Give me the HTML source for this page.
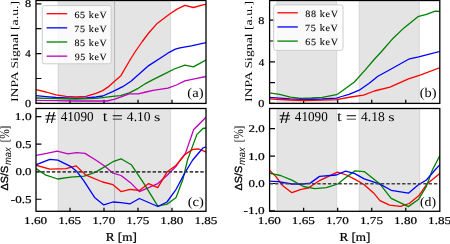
<!DOCTYPE html><html><head><meta charset="utf-8"><style>html,body{margin:0;padding:0;background:#fff;width:450px;height:244px;overflow:hidden}svg{display:block;will-change:transform}text{text-rendering:geometricPrecision}</style></head><body>
<svg width="450" height="244" viewBox="0 0 450 244">
<rect width="450" height="244" fill="#fff"/>
<defs>
<clipPath id="cpa"><rect x="36.0" y="0.5" width="170.00" height="102.90"/></clipPath>
<clipPath id="cpb"><rect x="269.6" y="0.5" width="170.20" height="102.90"/></clipPath>
<clipPath id="cpc"><rect x="36.0" y="108.5" width="170.00" height="102.80"/></clipPath>
<clipPath id="cpd"><rect x="269.6" y="108.5" width="170.20" height="102.80"/></clipPath>
</defs>
<g clip-path="url(#cpa)">
<rect x="57.98" y="0.5" width="56.57" height="102.90" fill="#000" fill-opacity="0.105" stroke="#000" stroke-opacity="0.105" stroke-width="1.0"/>
<rect x="114.55" y="0.5" width="55.88" height="102.90" fill="#000" fill-opacity="0.105" stroke="#000" stroke-opacity="0.105" stroke-width="1.0"/>
<line x1="70.00" y1="103.4" x2="70.00" y2="99.80" stroke="#000" stroke-width="1.25"/>
<line x1="104.00" y1="103.4" x2="104.00" y2="99.80" stroke="#000" stroke-width="1.25"/>
<line x1="138.00" y1="103.4" x2="138.00" y2="99.80" stroke="#000" stroke-width="1.25"/>
<line x1="172.00" y1="103.4" x2="172.00" y2="99.80" stroke="#000" stroke-width="1.25"/>
<line x1="36.0" y1="103.40" x2="41.40" y2="103.40" stroke="#000" stroke-width="1.2"/>
<line x1="36.0" y1="78.50" x2="41.40" y2="78.50" stroke="#000" stroke-width="1.2"/>
<line x1="36.0" y1="53.60" x2="41.40" y2="53.60" stroke="#000" stroke-width="1.2"/>
<line x1="36.0" y1="28.70" x2="41.40" y2="28.70" stroke="#000" stroke-width="1.2"/>
<line x1="36.0" y1="3.80" x2="41.40" y2="3.80" stroke="#000" stroke-width="1.2"/>
<polyline points="36.0,89.6 46.0,92.0 56.0,94.9 66.0,96.3 76.0,97.0 86.0,96.3 96.0,93.4 102.7,90.6 109.3,86.1 115.4,80.6 120.9,75.7 129.4,61.0 135.0,52.0 142.3,41.5 148.7,33.0 157.2,23.4 170.0,13.8 177.5,8.9 184.9,5.3 193.4,7.5 204.0,4.7 206.0,4.7" fill="none" stroke="#ff0000" stroke-width="1.3" stroke-linejoin="round" stroke-linecap="square"/>
<polyline points="36.0,95.6 46.0,96.6 56.0,97.5 76.0,98.3 86.0,98.0 96.0,97.0 102.7,96.0 112.7,91.7 122.7,86.7 131.3,81.0 148.7,65.6 163.6,56.0 169.2,52.3 175.3,49.2 180.0,47.8 191.3,45.8 206.0,42.6" fill="none" stroke="#0000ff" stroke-width="1.3" stroke-linejoin="round" stroke-linecap="square"/>
<polyline points="36.0,98.0 56.0,98.6 76.0,99.0 96.0,98.3 102.7,97.6 112.7,96.4 120.4,95.6 129.3,92.8 138.2,88.3 146.0,83.3 153.0,79.7 163.6,74.4 174.3,69.0 184.9,65.2 193.4,66.9 206.0,60.1" fill="none" stroke="#008000" stroke-width="1.3" stroke-linejoin="round" stroke-linecap="square"/>
<polyline points="36.0,100.3 56.0,100.7 76.0,101.0 107.1,101.0 114.9,99.1 129.3,93.9 138.2,93.9 146.0,92.0 153.0,90.3 167.9,88.2 176.4,85.0 184.9,80.8 195.6,78.6 206.0,76.5" fill="none" stroke="#bf00bf" stroke-width="1.3" stroke-linejoin="round" stroke-linecap="square"/>
</g>
<rect x="36.0" y="0.5" width="170.00" height="102.90" fill="none" stroke="#000" stroke-width="1.3"/>
<g clip-path="url(#cpb)">
<rect x="276.90" y="0.5" width="59.75" height="102.90" fill="#000" fill-opacity="0.105" stroke="#000" stroke-opacity="0.105" stroke-width="1.0"/>
<rect x="359.08" y="0.5" width="60.30" height="102.90" fill="#000" fill-opacity="0.105" stroke="#000" stroke-opacity="0.105" stroke-width="1.0"/>
<line x1="303.64" y1="103.4" x2="303.64" y2="99.80" stroke="#000" stroke-width="1.25"/>
<line x1="337.68" y1="103.4" x2="337.68" y2="99.80" stroke="#000" stroke-width="1.25"/>
<line x1="371.72" y1="103.4" x2="371.72" y2="99.80" stroke="#000" stroke-width="1.25"/>
<line x1="405.76" y1="103.4" x2="405.76" y2="99.80" stroke="#000" stroke-width="1.25"/>
<line x1="269.6" y1="103.40" x2="275.00" y2="103.40" stroke="#000" stroke-width="1.2"/>
<line x1="269.6" y1="82.60" x2="275.00" y2="82.60" stroke="#000" stroke-width="1.2"/>
<line x1="269.6" y1="61.80" x2="275.00" y2="61.80" stroke="#000" stroke-width="1.2"/>
<line x1="269.6" y1="41.00" x2="275.00" y2="41.00" stroke="#000" stroke-width="1.2"/>
<line x1="269.6" y1="20.20" x2="275.00" y2="20.20" stroke="#000" stroke-width="1.2"/>
<polyline points="269.0,92.8 279.6,94.4 290.3,97.2 301.0,98.3 311.6,98.0 322.3,97.3 336.6,94.7 340.0,92.5 354.4,82.0 365.3,69.9 373.7,60.0 382.0,51.0 392.1,39.3 404.0,27.9 417.9,16.7 426.5,14.3 435.1,11.1 440.0,11.5" fill="none" stroke="#008000" stroke-width="1.3" stroke-linejoin="round" stroke-linecap="square"/>
<polyline points="269.0,97.3 290.3,98.9 304.6,99.5 322.0,99.0 336.6,98.2 340.0,97.0 349.0,94.3 359.9,89.8 368.9,83.5 377.9,76.2 388.0,70.7 409.5,58.8 418.7,56.8 440.0,51.3" fill="none" stroke="#0000ff" stroke-width="1.3" stroke-linejoin="round" stroke-linecap="square"/>
<polyline points="269.0,98.8 290.3,100.0 304.6,100.5 322.0,100.2 336.6,99.6 350.8,97.0 363.5,95.2 374.3,91.0 390.0,87.1 408.5,78.9 420.8,74.8 440.0,67.6" fill="none" stroke="#ff0000" stroke-width="1.3" stroke-linejoin="round" stroke-linecap="square"/>
</g>
<rect x="269.6" y="0.5" width="170.20" height="102.90" fill="none" stroke="#000" stroke-width="1.3"/>
<g clip-path="url(#cpc)">
<rect x="57.98" y="108.5" width="56.57" height="102.80" fill="#000" fill-opacity="0.105" stroke="#000" stroke-opacity="0.105" stroke-width="1.0"/>
<rect x="114.55" y="108.5" width="55.88" height="102.80" fill="#000" fill-opacity="0.105" stroke="#000" stroke-opacity="0.105" stroke-width="1.0"/>
<line x1="70.00" y1="211.3" x2="70.00" y2="207.70" stroke="#000" stroke-width="1.25"/>
<line x1="104.00" y1="211.3" x2="104.00" y2="207.70" stroke="#000" stroke-width="1.25"/>
<line x1="138.00" y1="211.3" x2="138.00" y2="207.70" stroke="#000" stroke-width="1.25"/>
<line x1="172.00" y1="211.3" x2="172.00" y2="207.70" stroke="#000" stroke-width="1.25"/>
<line x1="36.0" y1="116.60" x2="41.40" y2="116.60" stroke="#000" stroke-width="1.2"/>
<line x1="36.0" y1="144.15" x2="41.40" y2="144.15" stroke="#000" stroke-width="1.2"/>
<line x1="36.0" y1="171.70" x2="41.40" y2="171.70" stroke="#000" stroke-width="1.2"/>
<line x1="36.0" y1="199.25" x2="41.40" y2="199.25" stroke="#000" stroke-width="1.2"/>
<polyline points="36.0,155.3 46.6,153.4 57.3,151.2 68.0,153.8 76.5,152.7 85.0,153.4 95.7,160.0 104.9,166.3 113.0,173.2 121.0,175.5 130.2,182.4 139.4,191.6 157.8,183.6 167.0,175.5 176.1,166.3 180.4,160.0 185.5,153.1 193.7,129.5 205.0,118.2 206.0,117.5" fill="none" stroke="#bf00bf" stroke-width="1.3" stroke-linejoin="round" stroke-linecap="square"/>
<polyline points="36.0,168.6 45.2,174.8 57.8,179.0 70.5,177.1 84.2,176.2 95.7,172.1 113.0,161.7 121.0,158.8 131.3,164.7 144.0,183.6 157.8,206.1 167.0,204.2 176.1,197.4 183.0,179.0 187.5,160.0 196.8,134.6 202.9,128.5 206.0,128.0" fill="none" stroke="#008000" stroke-width="1.3" stroke-linejoin="round" stroke-linecap="square"/>
<polyline points="36.0,165.2 49.8,169.1 65.9,168.6 76.2,165.9 85.4,174.8 102.6,182.0 113.0,184.7 121.0,191.6 130.2,189.3 139.4,190.5 148.6,183.6 157.8,187.7 167.0,172.1 176.1,165.2 180.4,160.0 185.5,154.1 192.7,149.4 198.8,149.0 206.0,152.0" fill="none" stroke="#ff0000" stroke-width="1.3" stroke-linejoin="round" stroke-linecap="square"/>
<polyline points="36.0,164.7 49.8,159.4 57.8,160.1 70.5,166.3 77.4,172.1 84.2,181.3 94.6,197.4 103.8,204.9 113.0,202.0 121.0,202.6 130.2,203.8 139.4,198.5 157.8,206.5 167.0,202.0 176.1,189.3 185.3,172.1 192.7,160.0 202.9,148.0 206.0,146.9" fill="none" stroke="#0000ff" stroke-width="1.3" stroke-linejoin="round" stroke-linecap="square"/>
<line x1="36.0" y1="171.89999999999998" x2="206.0" y2="171.89999999999998" stroke="#444" stroke-width="1.6" stroke-dasharray="3.4,1.9"/>
</g>
<rect x="36.0" y="108.5" width="170.00" height="102.80" fill="none" stroke="#000" stroke-width="1.3"/>
<g clip-path="url(#cpd)">
<rect x="276.90" y="108.5" width="59.75" height="102.80" fill="#000" fill-opacity="0.105" stroke="#000" stroke-opacity="0.105" stroke-width="1.0"/>
<rect x="359.08" y="108.5" width="60.64" height="102.80" fill="#000" fill-opacity="0.105" stroke="#000" stroke-opacity="0.105" stroke-width="1.0"/>
<line x1="303.64" y1="211.3" x2="303.64" y2="207.70" stroke="#000" stroke-width="1.25"/>
<line x1="337.68" y1="211.3" x2="337.68" y2="207.70" stroke="#000" stroke-width="1.25"/>
<line x1="371.72" y1="211.3" x2="371.72" y2="207.70" stroke="#000" stroke-width="1.25"/>
<line x1="405.76" y1="211.3" x2="405.76" y2="207.70" stroke="#000" stroke-width="1.25"/>
<line x1="269.6" y1="128.70" x2="275.00" y2="128.70" stroke="#000" stroke-width="1.2"/>
<line x1="269.6" y1="156.10" x2="275.00" y2="156.10" stroke="#000" stroke-width="1.2"/>
<line x1="269.6" y1="183.50" x2="275.00" y2="183.50" stroke="#000" stroke-width="1.2"/>
<line x1="269.6" y1="210.90" x2="275.00" y2="210.90" stroke="#000" stroke-width="1.2"/>
<polyline points="269.0,169.8 275.9,176.6 282.8,185.8 291.9,192.7 301.1,189.3 308.0,188.1 320.0,180.3 337.4,172.1 346.6,175.0 355.0,179.4 361.0,182.8 364.2,184.7 373.3,192.7 380.0,200.6 389.5,205.2 400.6,206.4 409.2,203.5 418.7,195.8 427.2,183.7 440.0,173.4" fill="none" stroke="#ff0000" stroke-width="1.3" stroke-linejoin="round" stroke-linecap="square"/>
<polyline points="269.0,173.2 280.5,175.5 291.9,180.1 303.4,186.5 314.9,188.6 326.3,187.7 337.8,184.0 347.0,176.6 355.0,170.9 364.2,171.6 380.0,184.1 391.2,198.4 408.4,206.6 418.7,199.2 426.4,186.3 432.4,170.0 440.0,155.4" fill="none" stroke="#008000" stroke-width="1.3" stroke-linejoin="round" stroke-linecap="square"/>
<polyline points="269.0,181.2 278.2,181.7 291.9,184.0 303.4,184.0 310.3,183.1 319.5,176.4 336.4,175.0 345.6,171.1 354.8,173.6 364.2,178.9 380.0,184.1 391.2,190.3 408.4,193.2 418.7,184.6 426.4,180.0 435.0,170.0 440.0,164.6" fill="none" stroke="#0000ff" stroke-width="1.3" stroke-linejoin="round" stroke-linecap="square"/>
<line x1="269.6" y1="183.7" x2="439.8" y2="183.7" stroke="#444" stroke-width="1.6" stroke-dasharray="3.4,1.9"/>
</g>
<rect x="269.6" y="108.5" width="170.20" height="102.80" fill="none" stroke="#000" stroke-width="1.3"/>
<rect x="42.3" y="5.6" width="68.90" height="58.20" rx="2.2" fill="#fff" fill-opacity="0.8" stroke="#cccccc" stroke-width="1"/>
<line x1="46.6" y1="13.7" x2="67.2" y2="13.7" stroke="#ff0000" stroke-width="1.3"/>
<line x1="46.6" y1="27.85" x2="67.2" y2="27.85" stroke="#0000ff" stroke-width="1.3"/>
<line x1="46.6" y1="42.0" x2="67.2" y2="42.0" stroke="#008000" stroke-width="1.3"/>
<line x1="46.6" y1="56.15" x2="67.2" y2="56.15" stroke="#bf00bf" stroke-width="1.3"/>
<rect x="273.7" y="4.9" width="69.30" height="45.50" rx="2.2" fill="#fff" fill-opacity="0.8" stroke="#cccccc" stroke-width="1"/>
<line x1="277.4" y1="12.8" x2="297.8" y2="12.8" stroke="#ff0000" stroke-width="1.3"/>
<line x1="277.4" y1="26.95" x2="297.8" y2="26.95" stroke="#0000ff" stroke-width="1.3"/>
<line x1="277.4" y1="41.1" x2="297.8" y2="41.1" stroke="#008000" stroke-width="1.3"/>
<text stroke="#000" stroke-width="0.22" transform="matrix(1.1111 0 0 0.9655 24.944 107.100)" font-family="Liberation Serif" font-size="11" font-style="normal" font-weight="normal" letter-spacing="0" fill="#000">0</text>
<text stroke="#000" stroke-width="0.22" transform="matrix(1.0000 0 0 0.9655 25.250 57.300)" font-family="Liberation Serif" font-size="11" font-style="normal" font-weight="normal" letter-spacing="0" fill="#000">4</text>
<text stroke="#000" stroke-width="0.22" transform="matrix(1.1111 0 0 0.9333 24.944 7.267)" font-family="Liberation Serif" font-size="11" font-style="normal" font-weight="normal" letter-spacing="0" fill="#000">8</text>
<text stroke="#000" stroke-width="0.22" transform="matrix(1.1111 0 0 0.9655 258.344 107.100)" font-family="Liberation Serif" font-size="11" font-style="normal" font-weight="normal" letter-spacing="0" fill="#000">0</text>
<text stroke="#000" stroke-width="0.22" transform="matrix(1.0000 0 0 0.9655 258.650 65.500)" font-family="Liberation Serif" font-size="11" font-style="normal" font-weight="normal" letter-spacing="0" fill="#000">4</text>
<text stroke="#000" stroke-width="0.22" transform="matrix(1.1111 0 0 0.9333 258.344 23.667)" font-family="Liberation Serif" font-size="11" font-style="normal" font-weight="normal" letter-spacing="0" fill="#000">8</text>
<text stroke="#000" stroke-width="0.22" transform="matrix(1.2245 0 0 0.9600 14.776 120.160)" font-family="Liberation Serif" font-size="11" font-style="normal" font-weight="normal" letter-spacing="0" fill="#000">1.0</text>
<text stroke="#000" stroke-width="0.22" transform="matrix(1.1765 0 0 0.9600 15.412 147.710)" font-family="Liberation Serif" font-size="11" font-style="normal" font-weight="normal" letter-spacing="0" fill="#000">0.5</text>
<text stroke="#000" stroke-width="0.22" transform="matrix(1.1765 0 0 0.9600 15.412 175.260)" font-family="Liberation Serif" font-size="11" font-style="normal" font-weight="normal" letter-spacing="0" fill="#000">0.0</text>
<text stroke="#000" stroke-width="0.22" transform="matrix(1.1879 0 0 0.9600 10.806 202.810)" font-family="Liberation Serif" font-size="11" font-style="normal" font-weight="normal" letter-spacing="0" fill="#000">-0.5</text>
<text stroke="#000" stroke-width="0.22" transform="matrix(1.1765 0 0 0.9600 248.512 132.260)" font-family="Liberation Serif" font-size="11" font-style="normal" font-weight="normal" letter-spacing="0" fill="#000">2.0</text>
<text stroke="#000" stroke-width="0.22" transform="matrix(1.2245 0 0 0.9600 247.876 159.660)" font-family="Liberation Serif" font-size="11" font-style="normal" font-weight="normal" letter-spacing="0" fill="#000">1.0</text>
<text stroke="#000" stroke-width="0.22" transform="matrix(1.1765 0 0 0.9600 248.512 187.060)" font-family="Liberation Serif" font-size="11" font-style="normal" font-weight="normal" letter-spacing="0" fill="#000">0.0</text>
<text stroke="#000" stroke-width="0.22" transform="matrix(1.2061 0 0 0.9600 243.597 214.460)" font-family="Liberation Serif" font-size="11" font-style="normal" font-weight="normal" letter-spacing="0" fill="#000">-1.0</text>
<text stroke="#000" stroke-width="0.22" transform="matrix(1.1944 0 0 0.9467 24.106 224.063)" font-family="Liberation Serif" font-size="11" font-style="normal" font-weight="normal" letter-spacing="0" fill="#000">1.60</text>
<text stroke="#000" stroke-width="0.22" transform="matrix(1.1944 0 0 0.9467 58.166 224.063)" font-family="Liberation Serif" font-size="11" font-style="normal" font-weight="normal" letter-spacing="0" fill="#000">1.65</text>
<text stroke="#000" stroke-width="0.22" transform="matrix(1.1944 0 0 0.9467 92.226 224.063)" font-family="Liberation Serif" font-size="11" font-style="normal" font-weight="normal" letter-spacing="0" fill="#000">1.70</text>
<text stroke="#000" stroke-width="0.22" transform="matrix(1.1944 0 0 0.9467 126.286 224.063)" font-family="Liberation Serif" font-size="11" font-style="normal" font-weight="normal" letter-spacing="0" fill="#000">1.75</text>
<text stroke="#000" stroke-width="0.22" transform="matrix(1.1944 0 0 0.9467 160.346 224.063)" font-family="Liberation Serif" font-size="11" font-style="normal" font-weight="normal" letter-spacing="0" fill="#000">1.80</text>
<text stroke="#000" stroke-width="0.22" transform="matrix(1.1944 0 0 0.9467 194.406 224.063)" font-family="Liberation Serif" font-size="11" font-style="normal" font-weight="normal" letter-spacing="0" fill="#000">1.85</text>
<text stroke="#000" stroke-width="0.22" transform="matrix(1.0963 0 0 1.0100 105.702 240.632)" font-family="Liberation Serif" font-size="12" font-style="normal" font-weight="normal" letter-spacing="0" fill="#000">R [m]</text>
<text stroke="#000" stroke-width="0.22" transform="matrix(1.1944 0 0 0.9467 257.806 224.063)" font-family="Liberation Serif" font-size="11" font-style="normal" font-weight="normal" letter-spacing="0" fill="#000">1.60</text>
<text stroke="#000" stroke-width="0.22" transform="matrix(1.1944 0 0 0.9467 291.866 224.063)" font-family="Liberation Serif" font-size="11" font-style="normal" font-weight="normal" letter-spacing="0" fill="#000">1.65</text>
<text stroke="#000" stroke-width="0.22" transform="matrix(1.1944 0 0 0.9467 325.926 224.063)" font-family="Liberation Serif" font-size="11" font-style="normal" font-weight="normal" letter-spacing="0" fill="#000">1.70</text>
<text stroke="#000" stroke-width="0.22" transform="matrix(1.1944 0 0 0.9467 359.986 224.063)" font-family="Liberation Serif" font-size="11" font-style="normal" font-weight="normal" letter-spacing="0" fill="#000">1.75</text>
<text stroke="#000" stroke-width="0.22" transform="matrix(1.1944 0 0 0.9467 394.046 224.063)" font-family="Liberation Serif" font-size="11" font-style="normal" font-weight="normal" letter-spacing="0" fill="#000">1.80</text>
<text stroke="#000" stroke-width="0.22" transform="matrix(1.1944 0 0 0.9467 428.106 224.063)" font-family="Liberation Serif" font-size="11" font-style="normal" font-weight="normal" letter-spacing="0" fill="#000">1.85</text>
<text stroke="#000" stroke-width="0.22" transform="matrix(1.0963 0 0 1.0100 339.402 240.632)" font-family="Liberation Serif" font-size="12" font-style="normal" font-weight="normal" letter-spacing="0" fill="#000">R [m]</text>
<text stroke="#000" stroke-width="0.12" transform="matrix(0.9086 0 0 0.8750 74.446 17.581)" font-family="Liberation Serif" font-size="11" font-style="normal" font-weight="normal" letter-spacing="0.7" fill="#000">65 keV</text>
<text stroke="#000" stroke-width="0.12" transform="matrix(0.9151 0 0 0.8750 74.214 31.731)" font-family="Liberation Serif" font-size="11" font-style="normal" font-weight="normal" letter-spacing="0.7" fill="#000">75 keV</text>
<text stroke="#000" stroke-width="0.12" transform="matrix(0.9086 0 0 0.8750 74.446 45.881)" font-family="Liberation Serif" font-size="11" font-style="normal" font-weight="normal" letter-spacing="0.7" fill="#000">85 keV</text>
<text stroke="#000" stroke-width="0.12" transform="matrix(0.9021 0 0 0.8750 74.674 60.031)" font-family="Liberation Serif" font-size="11" font-style="normal" font-weight="normal" letter-spacing="0.7" fill="#000">95 keV</text>
<text stroke="#000" stroke-width="0.12" transform="matrix(0.9200 0 0 0.8750 305.240 16.681)" font-family="Liberation Serif" font-size="11" font-style="normal" font-weight="normal" letter-spacing="0.7" fill="#000">88 keV</text>
<text stroke="#000" stroke-width="0.12" transform="matrix(0.9266 0 0 0.8750 305.005 30.831)" font-family="Liberation Serif" font-size="11" font-style="normal" font-weight="normal" letter-spacing="0.7" fill="#000">75 keV</text>
<text stroke="#000" stroke-width="0.12" transform="matrix(0.9200 0 0 0.8750 305.240 44.981)" font-family="Liberation Serif" font-size="11" font-style="normal" font-weight="normal" letter-spacing="0.7" fill="#000">65 keV</text>
<text  transform="matrix(1.5846 0 0 1.2108 45.104 122.700)" font-family="Liberation Serif" font-size="14" font-style="normal" font-weight="normal" letter-spacing="0" fill="#000">#</text>
<text  transform="matrix(0.9401 0 0 0.9730 60.665 121.100)" font-family="Liberation Serif" font-size="14" font-style="normal" font-weight="normal" letter-spacing="0" fill="#000">41090</text>
<text  transform="matrix(1.2000 0 0 1.0194 102.700 120.700)" font-family="Liberation Serif" font-size="14" font-style="normal" font-weight="normal" letter-spacing="0" fill="#000">t</text>
<text  transform="matrix(1.4154 0 0 1.2000 111.638 122.500)" font-family="Liberation Serif" font-size="14" font-style="normal" font-weight="normal" letter-spacing="0" fill="#000">=</text>
<text  transform="matrix(0.9684 0 0 0.9579 126.858 120.761)" font-family="Liberation Serif" font-size="14" font-style="normal" font-weight="normal" letter-spacing="0" fill="#000">4.10</text>
<text  transform="matrix(1.1667 0 0 0.8615 154.017 121.000)" font-family="Liberation Serif" font-size="14" font-style="normal" font-weight="normal" letter-spacing="0" fill="#000">s</text>
<text  transform="matrix(1.5846 0 0 1.2108 279.304 122.700)" font-family="Liberation Serif" font-size="14" font-style="normal" font-weight="normal" letter-spacing="0" fill="#000">#</text>
<text  transform="matrix(0.9401 0 0 0.9730 294.865 121.100)" font-family="Liberation Serif" font-size="14" font-style="normal" font-weight="normal" letter-spacing="0" fill="#000">41090</text>
<text  transform="matrix(1.2000 0 0 1.0194 336.900 120.700)" font-family="Liberation Serif" font-size="14" font-style="normal" font-weight="normal" letter-spacing="0" fill="#000">t</text>
<text  transform="matrix(1.4154 0 0 1.2000 345.838 122.500)" font-family="Liberation Serif" font-size="14" font-style="normal" font-weight="normal" letter-spacing="0" fill="#000">=</text>
<text  transform="matrix(0.9684 0 0 0.9579 361.058 120.761)" font-family="Liberation Serif" font-size="14" font-style="normal" font-weight="normal" letter-spacing="0" fill="#000">4.18</text>
<text  transform="matrix(1.1667 0 0 0.8615 388.217 121.000)" font-family="Liberation Serif" font-size="14" font-style="normal" font-weight="normal" letter-spacing="0" fill="#000">s</text>
<text  transform="matrix(1.2163 0 0 1.1070 187.292 97.033)" font-family="Liberation Serif" font-size="12" font-style="normal" font-weight="normal" letter-spacing="0" fill="#000">(a)</text>
<text  transform="matrix(1.2000 0 0 1.1256 419.700 96.986)" font-family="Liberation Serif" font-size="12" font-style="normal" font-weight="normal" letter-spacing="0" fill="#000">(b)</text>
<text  transform="matrix(1.2163 0 0 1.0884 187.692 206.179)" font-family="Liberation Serif" font-size="12" font-style="normal" font-weight="normal" letter-spacing="0" fill="#000">(c)</text>
<text  transform="matrix(1.1462 0 0 1.0884 420.027 206.179)" font-family="Liberation Serif" font-size="12" font-style="normal" font-weight="normal" letter-spacing="0" fill="#000">(d)</text>
<text  transform="matrix(0 -1.1460 0.8558 0 17.860 102.073)" font-family="Liberation Serif" font-size="12" font-style="normal" font-weight="normal" letter-spacing="0" fill="#000">INPA Signal [a.u.]</text>
<text  transform="matrix(0 -1.1460 0.8558 0 251.560 102.073)" font-family="Liberation Serif" font-size="12" font-style="normal" font-weight="normal" letter-spacing="0" fill="#000">INPA Signal [a.u.]</text>
<text stroke="#000" stroke-width="0.35" transform="matrix(0 -0.9814 0.9333 0 7.867 190.445)" font-family="Liberation Sans" font-size="11" font-style="normal" font-weight="normal" letter-spacing="0" fill="#000">ΔS/S</text>
<text  transform="matrix(0 -1.0471 1.0947 0 11.400 165.062)" font-family="Liberation Sans" font-size="9" font-style="italic" font-weight="normal" letter-spacing="0" fill="#000">max</text>
<text  transform="matrix(0 -0.8514 1.0146 0 8.824 142.251)" font-family="Liberation Serif" font-size="12" font-style="normal" font-weight="normal" letter-spacing="0" fill="#000">[<tspan font-size="13.5" dy="0.5">%</tspan><tspan dy="-0.5">]</tspan></text>
<text stroke="#000" stroke-width="0.35" transform="matrix(0 -0.9814 0.9333 0 241.567 190.445)" font-family="Liberation Sans" font-size="11" font-style="normal" font-weight="normal" letter-spacing="0" fill="#000">ΔS/S</text>
<text  transform="matrix(0 -1.0471 1.0947 0 245.100 165.062)" font-family="Liberation Sans" font-size="9" font-style="italic" font-weight="normal" letter-spacing="0" fill="#000">max</text>
<text  transform="matrix(0 -0.8514 1.0146 0 242.524 142.251)" font-family="Liberation Serif" font-size="12" font-style="normal" font-weight="normal" letter-spacing="0" fill="#000">[<tspan font-size="13.5" dy="0.5">%</tspan><tspan dy="-0.5">]</tspan></text>
</svg></body></html>
